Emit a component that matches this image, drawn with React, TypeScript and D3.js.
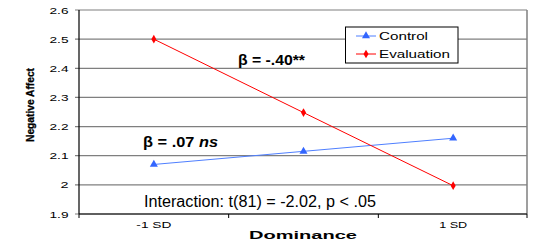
import React from "react";
import * as d3 from "d3";

const categories = ["-1 SD", "", "1 SD"];
const controlValues = [2.07, 2.115, 2.16];
const evaluationValues = [2.5, 2.248, 1.997];
const yTicks = [1.9, 2, 2.1, 2.2, 2.3, 2.4, 2.5, 2.6];

const W = 533, H = 246;
const L = 79, R = 527, T = 10, B = 214;

const catWidths: Record<string, number> = { "-1 SD": 35, "1 SD": 28 };

export default function App() {
  const x = d3.scaleBand<number>().domain(d3.range(categories.length)).range([L, R + 1]);
  const y = d3.scaleLinear().domain([1.9, 2.6]).range([B, T]);
  const cx = (i: number) => (x(i) as number) + x.bandwidth() / 2;
  const line = d3.line<number>().x((_, i) => cx(i)).y((d) => y(d));
  const tri = d3.symbol().type(d3.symbolTriangle).size(28)();
  const dia = d3.symbol().type(d3.symbolDiamond).size(22)();
  const font = "Arial, 'Liberation Sans', sans-serif";
  const xTickPos = d3.range(categories.length + 1).map((i) => (i < categories.length ? (x(i) as number) : R));
  const fmt = d3.format("");

  return (
    <svg width={W} height={H} style={{ position: "absolute", left: 0, top: 0, background: "#fff" }} fontFamily={font}>
      {yTicks.map((t) => {
        const s = fmt(t);
        return (
          <g key={t}>
            <line x1={75} x2={R} y1={y(t)} y2={y(t)} stroke="#7f7f7f" strokeWidth={1.2} />
            <text
              x={68.5 - (s.length === 1 ? 8 : 19)}
              y={y(t) + 3.5}
              fontSize={9.5}
              fill="#000"
              textLength={s.length === 1 ? 8 : 19}
              lengthAdjust="spacingAndGlyphs"
            >
              {s}
            </text>
          </g>
        );
      })}
      <line x1={R} x2={R} y1={T} y2={B} stroke="#7f7f7f" strokeWidth={1.5} />
      <line x1={L} x2={L} y1={T} y2={B} stroke="#000" strokeWidth={1.2} />
      <line x1={L} x2={R} y1={B} y2={B} stroke="#000" strokeWidth={1.2} />
      {xTickPos.map((p, i) => (
        <line key={i} x1={p} x2={p} y1={B} y2={B + 4} stroke="#000" strokeWidth={1} />
      ))}
      {categories.map((c, i) =>
        c ? (
          <text
            key={i}
            x={cx(i) - catWidths[c] / 2}
            y={228}
            fontSize={9.5}
            textLength={catWidths[c]}
            lengthAdjust="spacingAndGlyphs"
          >
            {c}
          </text>
        ) : null
      )}
      <text x={249} y={239} fontSize={11.8} fontWeight="bold" textLength={108} lengthAdjust="spacingAndGlyphs">
        Dominance
      </text>
      <text
        transform={`translate(34,105) rotate(-90)`}
        fontSize={11}
        fontWeight="bold"
        textAnchor="middle"
        textLength={74}
        lengthAdjust="spacingAndGlyphs"
        stroke="#000"
        strokeWidth={0.3}
      >
        Negative Affect
      </text>

      <path d={line(controlValues) || ""} fill="none" stroke="#4f7fff" strokeWidth={1} />
      {controlValues.map((v, i) => (
        <path key={i} d={tri || ""} transform={`translate(${cx(i)},${y(v)})`} fill="#3366ff" />
      ))}
      <path d={line(evaluationValues) || ""} fill="none" stroke="#ff0000" strokeWidth={1} />
      {evaluationValues.map((v, i) => (
        <path key={i} d={dia || ""} transform={`translate(${cx(i)},${y(v)})`} fill="#ff0000" />
      ))}

      <text x={238} y={65} fontSize={14} fontWeight="bold" textLength={67} lengthAdjust="spacingAndGlyphs">
        β = -.40**
      </text>
      <text x={143} y={147} fontSize={14.5} fontWeight="bold" textLength={75} lengthAdjust="spacingAndGlyphs">
        β = .07 <tspan fontStyle="italic">ns</tspan>
      </text>
      <text x={144} y={207} fontSize={16} textLength={232} lengthAdjust="spacingAndGlyphs">
        Interaction: t(81) = -2.02, p &lt; .05
      </text>

      <rect x={345.5} y={27} width={112.5} height={36} fill="#fff" stroke="#000" strokeWidth={1} />
      <line x1={356} x2={376} y1={36} y2={36} stroke="#4f7fff" strokeWidth={1} />
      <path d={tri || ""} transform="translate(366,36)" fill="#3366ff" />
      <text x={379} y={39.5} fontSize={10.8} textLength={49} lengthAdjust="spacingAndGlyphs">Control</text>
      <line x1={356} x2={376} y1={54} y2={54} stroke="#ff0000" strokeWidth={1} />
      <path d={dia || ""} transform="translate(366,54)" fill="#ff0000" />
      <text x={379} y={57.5} fontSize={10.8} textLength={71} lengthAdjust="spacingAndGlyphs">Evaluation</text>
    </svg>
  );
}
